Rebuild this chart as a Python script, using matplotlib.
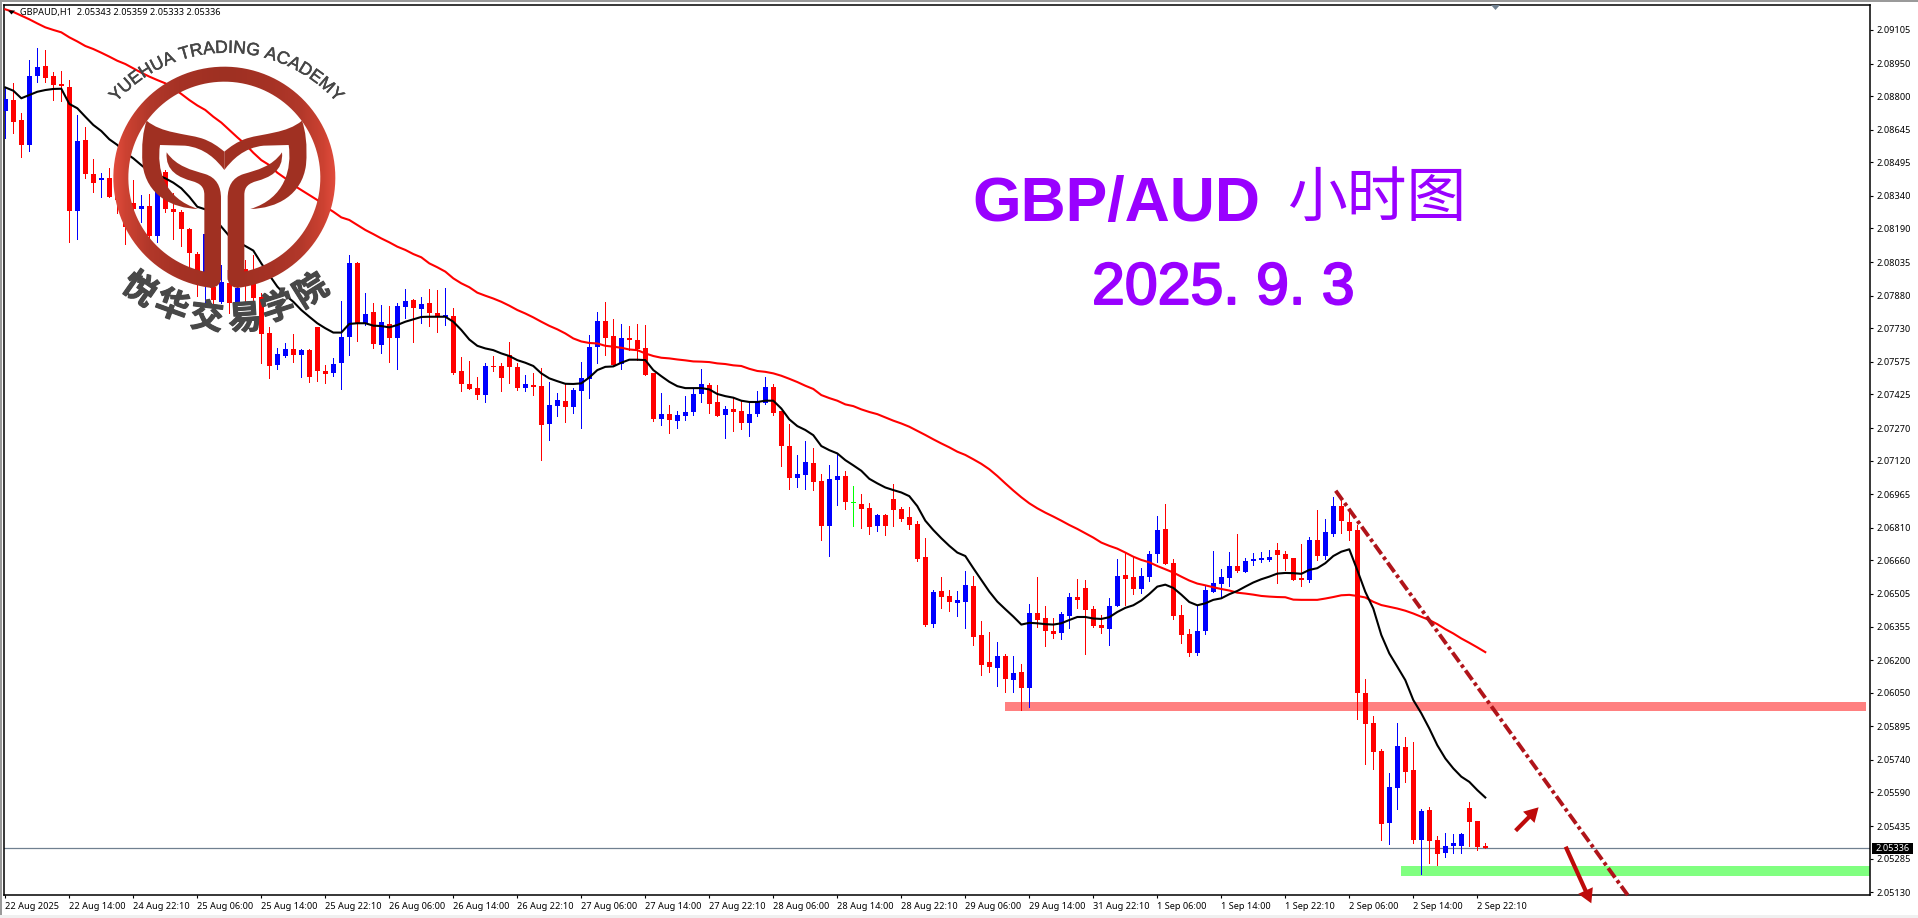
import numpy as np
import matplotlib
matplotlib.use("Agg")
import matplotlib.pyplot as plt
import matplotlib.patheffects as pe
from matplotlib.patches import Rectangle, Polygon, PathPatch
from matplotlib.path import Path

W, H = 1918, 918

# ---- data: prices as points above 2.00000 (1 point = 0.00001) ----
open_pts = [8731,8782,8690,8575,8893,8939,8893,8856,8840,8272,
8598,8441,8413,8423,8383,8321,8306,8280,8293,8155,
8452,8280,8266,8187,8072,7991,7919,7852,7937,7848,
8002,7991,7872,7710,7561,7602,7633,7608,7630,7734,
7533,7525,7568,7691,8029,7750,7803,7653,7750,7685,
7829,7860,7819,7845,7802,7780,7786,7531,7473,7454,
7422,7556,7556,7606,7551,7454,7468,7463,7288,7371,
7394,7367,7440,7497,7643,7763,7694,7565,7685,7675,
7639,7525,7311,7334,7302,7325,7344,7427,7468,7390,
7330,7357,7348,7293,7334,7385,7459,7348,7187,7039,
7053,7108,7026,6818,7030,7049,6923,6919,6901,6818,
6869,6943,6896,6860,6827,6676,6367,6519,6496,6464,
6468,6542,6316,6192,6164,6220,6109,6146,6072,6418,
6395,6335,6326,6404,6492,6533,6436,6362,6344,6450,
6593,6584,6528,6584,6690,6805,6648,6409,6321,6233,
6335,6515,6551,6579,6634,6607,6657,6662,6662,6708,
6690,6671,6579,6570,6754,6680,6782,6911,6837,6800,
6047,5910,5781,5449,5610,5799,5693,5371,5509,5371,
5311,5343,5343,5518,5458,5343]
high_pts = [8836,8859,8721,8966,9020,9013,8913,8916,8874,8713,
8656,8509,8444,8467,8429,8367,8413,8344,8349,8467,
8459,8352,8275,8190,8083,8167,7968,8022,7937,7937,
8045,8068,7891,7734,7637,7660,7702,7633,7633,7734,
7561,7591,7856,8068,8035,7891,7845,7837,7832,7848,
7909,7865,7872,7909,7906,7914,7822,7596,7579,7503,
7568,7602,7568,7668,7568,7514,7525,7549,7482,7430,
7473,7453,7574,7698,7803,7851,7772,7749,7740,7749,
7745,7525,7431,7376,7348,7417,7453,7542,7476,7468,
7371,7407,7399,7390,7440,7506,7473,7348,7288,7145,
7210,7178,7058,7099,7150,7072,7002,6966,6924,6873,
6873,7012,6906,6906,6841,6763,6524,6584,6524,6519,
6611,6588,6381,6330,6284,6229,6220,6183,6459,6584,
6450,6395,6422,6510,6574,6570,6450,6409,6487,6667,
6693,6677,6625,6704,6865,6920,6667,6455,6344,6455,
6542,6704,6621,6699,6782,6671,6694,6699,6708,6740,
6704,6671,6736,6768,6893,6851,6952,6940,6893,6823,
6113,5942,5790,5678,5910,5845,5822,5513,5523,5389,
5404,5398,5403,5546,5458,5359]
low_pts = [8605,8631,8521,8549,8867,8867,8782,8779,8129,8143,
8421,8360,8336,8336,8260,8118,8260,8218,8141,8129,
8267,8141,8111,8014,7879,7837,7829,7845,7799,7842,
7852,7852,7568,7502,7541,7596,7576,7507,7484,7488,
7476,7510,7448,7607,7673,7745,7640,7617,7576,7542,
7776,7668,7756,7740,7714,7745,7519,7440,7450,7403,
7391,7534,7440,7476,7445,7440,7422,7122,7214,7325,
7297,7340,7270,7408,7568,7606,7556,7542,7629,7583,
7514,7302,7284,7247,7270,7307,7330,7390,7339,7325,
7224,7256,7265,7233,7325,7380,7330,7095,6989,6998,
6989,6984,6754,6680,6915,6896,6818,6809,6781,6795,
6777,6818,6841,6804,6657,6358,6353,6441,6427,6404,
6349,6270,6132,6146,6081,6054,6054,5971,5984,6355,
6266,6303,6298,6349,6441,6229,6355,6326,6270,6450,
6455,6505,6510,6565,6653,6644,6390,6279,6220,6224,
6321,6515,6485,6542,6607,6607,6639,6653,6657,6556,
6616,6570,6542,6561,6662,6667,6773,6787,6754,5930,
5721,5698,5371,5352,5513,5638,5358,5214,5265,5255,
5291,5311,5311,5343,5325,5333]
close_pts = [8787,8682,8575,8893,8934,8885,8851,8847,8272,8593,
8441,8399,8423,8336,8321,8198,8280,8293,8155,8367,
8278,8266,8189,8078,7995,8164,7860,7943,7848,7914,
7991,7871,7703,7556,7611,7633,7607,7630,7507,7534,
7519,7565,7688,8029,7750,7796,7657,7757,7685,7832,
7856,7825,7842,7802,7780,7791,7525,7473,7450,7422,
7556,7551,7500,7551,7454,7473,7459,7284,7376,7399,
7367,7445,7500,7643,7763,7685,7560,7685,7675,7632,
7514,7311,7334,7307,7330,7344,7427,7473,7380,7325,
7357,7344,7293,7334,7390,7459,7339,7187,7039,7058,
7113,7021,6818,7035,7049,6929,6923,6896,6813,6869,
6818,6892,6850,6823,6666,6362,6515,6492,6468,6478,
6547,6307,6178,6169,6220,6114,6141,6072,6418,6385,
6335,6321,6413,6492,6478,6432,6358,6349,6450,6588,
6574,6528,6588,6690,6800,6644,6404,6316,6233,6335,
6524,6556,6584,6634,6611,6657,6667,6671,6676,6685,
6667,6570,6570,6754,6680,6791,6911,6842,6796,6050,
5905,5776,5444,5615,5804,5684,5371,5504,5366,5306,
5343,5357,5398,5454,5338,5336]
ma_fast_pts = [8840,8825,8790,8805,8820,8828,8833,8834,8764,8744,
8705,8667,8639,8601,8575,8539,8513,8482,8452,8436,
8421,8401,8375,8336,8290,8278,8244,8198,8155,8129,
8109,8088,8029,7975,7922,7883,7852,7814,7783,7753,
7730,7710,7710,7750,7753,7753,7742,7740,7734,7745,
7760,7771,7782,7783,7783,7783,7760,7722,7678,7649,
7637,7629,7614,7602,7583,7571,7556,7522,7499,7486,
7474,7473,7476,7503,7537,7552,7554,7571,7585,7585,
7583,7537,7509,7483,7463,7454,7454,7454,7448,7427,
7417,7410,7396,7390,7390,7396,7396,7360,7310,7279,
7261,7237,7187,7168,7153,7122,7098,7073,7036,7015,
6996,6984,6973,6956,6910,6843,6800,6762,6727,6696,
6680,6624,6570,6516,6470,6435,6401,6364,6372,6370,
6366,6364,6370,6385,6399,6399,6392,6390,6398,6422,
6441,6453,6475,6505,6539,6548,6533,6502,6468,6453,
6462,6478,6485,6504,6519,6539,6558,6573,6585,6599,
6602,6601,6598,6616,6624,6647,6680,6700,6711,6615,
6515,6438,6316,6231,6170,6108,6016,5955,5885,5808,
5747,5701,5663,5639,5601,5567]
ma_slow_pts = [9200,9188,9171,9154,9135,9117,9105,9094,9071,9052,
9031,9017,9000,8982,8963,8948,8928,8908,8890,8874,
8859,8836,8810,8782,8757,8736,8705,8678,8644,8610,
8578,8539,8505,8482,8447,8421,8390,8367,8344,8321,
8290,8267,8241,8229,8206,8183,8164,8144,8126,8106,
8091,8072,8057,8029,8011,7991,7960,7937,7919,7894,
7880,7867,7852,7834,7814,7798,7780,7760,7741,7725,
7706,7683,7669,7662,7660,7649,7645,7640,7632,7629,
7614,7602,7594,7591,7586,7582,7577,7576,7574,7568,
7565,7559,7556,7543,7533,7529,7522,7511,7497,7482,
7465,7450,7422,7408,7396,7379,7371,7356,7344,7334,
7319,7304,7291,7276,7257,7238,7218,7199,7181,7161,
7146,7126,7105,7080,7049,7015,6982,6951,6923,6900,
6880,6862,6843,6823,6805,6785,6765,6742,6727,6714,
6696,6677,6662,6651,6634,6619,6604,6585,6567,6553,
6545,6536,6528,6521,6511,6507,6502,6496,6493,6491,
6490,6479,6478,6478,6478,6484,6491,6499,6501,6496,
6489,6469,6454,6446,6438,6428,6415,6400,6385,6366,
6343,6323,6300,6280,6259,6237]

y_tick_values = [2.09105,2.08950,2.08800,2.08645,2.08495,2.08340,2.08190,2.08035,2.07880,
                 2.07730,2.07575,2.07425,2.07270,2.07120,2.06965,2.06810,2.06660,2.06505,
                 2.06355,2.06200,2.06050,2.05895,2.05740,2.05590,2.05435,2.05285,2.05130]
x_tick_labels = ["22 Aug 2025","22 Aug 14:00","24 Aug 22:10","25 Aug 06:00","25 Aug 14:00",
                 "25 Aug 22:10","26 Aug 06:00","26 Aug 14:00","26 Aug 22:10","27 Aug 06:00",
                 "27 Aug 14:00","27 Aug 22:10","28 Aug 06:00","28 Aug 14:00","28 Aug 22:10",
                 "29 Aug 06:00","29 Aug 14:00","31 Aug 22:10","1 Sep 06:00","1 Sep 14:00",
                 "1 Sep 22:10","2 Sep 06:00","2 Sep 14:00","2 Sep 22:10"]
last_price = 2.05336
resistance_zone = (125.0, 232.6, 2.05967, 2.06006)
support_zone = (174.5, 2.05205, 2.05251)
trend_bars = [166.3, 202.8]
trend_prices = [2.06981, 2.05117]

# ---- scales ----
to_price = lambda a: 2.0 + np.asarray(a, float) / 1e5
O, Hi, Lo, C = map(to_price, (open_pts, high_pts, low_pts, close_pts))
bars = np.arange(len(O))

fig = plt.figure(figsize=(W / 100, H / 100), dpi=100, facecolor="white")
left, right, top, bottom = 4.0, 1870.0, 4.5, 895.0
ax = fig.add_axes([left / W, 1 - bottom / H, (right - left) / W, (bottom - top) / H])
ax.set_xlim((left - 5.3) / 8.0, (right - 5.3) / 8.0)
ax.set_ylim(2.09243 - 4.6095e-5 * bottom, 2.09243 - 4.6095e-5 * top)
ax.set_facecolor("white")
for s in ax.spines.values():
    s.set_linewidth(1.1)
    s.set_color("black")

FONT = "Noto Sans"
ax.yaxis.tick_right()
ax.set_yticks(y_tick_values)
ax.set_yticklabels([f"{v:.5f}" for v in y_tick_values], fontsize=6.6, family=FONT, color="black")
ax.set_xticks(bars[::8])
ax.set_xticklabels(x_tick_labels, fontsize=6.6, family=FONT, ha="left", color="black")
ax.tick_params(axis="both", length=2.4, width=0.8, color="black", pad=2.4)

# zones
ax.add_patch(Rectangle((resistance_zone[0], resistance_zone[2]),
                       resistance_zone[1] - resistance_zone[0],
                       resistance_zone[3] - resistance_zone[2],
                       fc="#FF8080", ec="none", zorder=1))
ax.add_patch(Rectangle((support_zone[0], support_zone[1]),
                       ax.get_xlim()[1] - support_zone[0],
                       support_zone[2] - support_zone[1],
                       fc="#80FF80", ec="none", zorder=1))

# candles
colors = np.where(C > O, "#0000FF", np.where(C < O, "#FF0000", "#00FF00"))
ax.vlines(bars, Lo, Hi, colors=colors, linewidth=0.72, zorder=3, antialiased=False)
body_lo = np.minimum(O, C)
body_h = np.maximum(np.abs(C - O), 4.7e-5)
ax.bar(bars, body_h, bottom=body_lo, width=5.0 / 8, color=colors, linewidth=0, zorder=3,
       antialiased=False)

# moving averages
ax.plot(bars, to_price(ma_slow_pts), color="#FF0000", lw=1.5, zorder=4, solid_joinstyle="round")
ax.plot(bars, to_price(ma_fast_pts), color="#000000", lw=1.5, zorder=4, solid_joinstyle="round")

# current price line, trend line
ax.axhline(last_price, color="#708090", lw=0.9, zorder=2)
ax.plot(trend_bars, trend_prices, color="#B0141A", lw=2.8, ls=(0, (3.0, 0.9, 0.9, 0.9)),
        zorder=5, clip_on=False)

# ---- overlay in pixel coordinates ----
ov = fig.add_axes([0, 0, 1, 1], zorder=10)
ov.set_facecolor("none")
ov.axis("off")

# window edges
ov.add_patch(Rectangle((0, 0), W, 2.2, fc="#9A9A9A", ec="none"))
ov.add_patch(Rectangle((0, 0), 2.2, 915, fc="#9A9A9A", ec="none"))
ov.add_patch(Rectangle((0, 914.5), W, 3.5, fc="#F0F0F0", ec="none"))

# header
ov.add_patch(Polygon([(8, 10.5), (15, 10.5), (11.5, 14.5)], fc="black", ec="none"))
ov.text(20, 12.5, "GBPAUD,H1  2.05343 2.05359 2.05333 2.05336", fontsize=6.6, family=FONT,
        va="center", ha="left", color="black")
# shift marker at the top
ov.add_patch(Polygon([(1491, 5), (1500, 5), (1495.5, 10)], fc="#708090", ec="none"))

# current-price label
ov.add_patch(Rectangle((1872, 843), 41, 11, fc="black", ec="none"))
ov.text(1892.5, 848.6, "2.05336", fontsize=6.6, family=FONT, color="white", ha="center", va="center")

# arrows
def arrow(x0, y0, x1, y1, w=4.2, hw=16, hl=14, color="#BE0A0A"):
    d = np.array([x1 - x0, y1 - y0], float)
    L = np.hypot(*d); d /= L
    n = np.array([-d[1], d[0]])
    p0, p1 = np.array([x0, y0]), np.array([x1, y1])
    b = p1 - d * hl
    pts = [p0 + n * w / 2, b + n * w / 2, b + n * hw / 2, p1, b - n * hw / 2, b - n * w / 2, p0 - n * w / 2]
    ov.add_patch(Polygon(pts, fc=color, ec="none"))
arrow(1515.6, 830.7, 1538.6, 807.3)
arrow(1565.7, 846.7, 1591.3, 903.3)

# titles
ov.text(972, 221, "GBP/AUD", fontsize=45, family="Liberation Sans", weight="bold", color="#9900FF",
        ha="left", va="baseline")
ov.text(1377, 199, "小时图", fontsize=43, family="Noto Sans CJK SC", color="#9900FF",
        ha="center", va="center")
ov.text(1092, 304, "2025. 9. 3", fontsize=42.5, family="Liberation Sans", color="#9900FF",
        ha="left", va="baseline",
        path_effects=[pe.withStroke(linewidth=1.4, foreground="#9900FF")])

# ---- logo ----
zx = lambda x: 105 + np.asarray(x, float) / 3.0
zy = lambda y: 55 + np.asarray(y, float) / 3.0
cx, cy, Ro, Ri = 358.0, 368.0, 333.0, 288.0

def bez(p0, p1, p2, n=12):
    t = np.linspace(0, 1, n)[:, None]
    p0, p1, p2 = map(np.array, (p0, p1, p2))
    return (1 - t) ** 2 * p0 + 2 * t * (1 - t) * p1 + t ** 2 * p2

th_o = np.radians(np.linspace(7.4, 352.6, 240))
th_i = np.radians(np.linspace(348, 12, 240))
outer = np.c_[cx - Ro * np.sin(th_o), cy + Ro * np.cos(th_o)]
inner = np.c_[cx - Ri * np.sin(th_i), cy + Ri * np.cos(th_i)]
cap_r = bez((401, 699), (368, 697), (368, 665))
cap_l = bez((348, 665), (348, 697), (315, 699))
ring_pts = np.vstack([outer, cap_r, [(368, 645)], inner, [(348, 645)], cap_l])
ring_path = Path(np.c_[zx(ring_pts[:, 0]), zy(ring_pts[:, 1])])
ring_patch = PathPatch(ring_path, fc="none", ec="none", transform=ov.transData)
ov.add_patch(ring_patch)
xs = np.linspace(0, 716, 240)
anch = np.array([25, 60, 130, 220, 358, 496, 586, 656, 691], float)
rgb = np.array([[226,76,61],[205,66,50],[178,56,42],[166,50,37],[158,48,34],
                [166,50,37],[178,56,42],[205,66,50],[226,76,61]], float) / 255
grad = np.stack([np.interp(xs, anch, rgb[:, k]) for k in range(3)], axis=-1)[None, :, :]
im = ov.imshow(grad, extent=(zx(0), zx(716), zy(720), zy(0)), aspect="auto", interpolation="bilinear")
im.set_clip_path(ring_patch)

def curve_path(segs):
    verts, codes = [], []
    for i, s in enumerate(segs):
        if i == 0:
            verts.append(s); codes.append(Path.MOVETO)
        elif len(s) == 2 and not isinstance(s[0], tuple):
            verts.append(s); codes.append(Path.LINETO)
        else:
            verts.extend(s); codes.extend([Path.CURVE4] * 3)
    verts.append(segs[0]); codes.append(Path.CLOSEPOLY)
    return np.array(verts, float), codes

stem = [(185, 292), ((215, 335), (260, 345), (300, 357)), ((335, 368), (348, 395), (348, 430)),
        (348, 675), (298, 675), (298, 420), ((298, 395), (285, 385), (260, 378)),
        ((225, 368), (180, 350), (185, 292))]
wing = [(125, 197), ((170, 235), (240, 235), (290, 250)), ((320, 260), (340, 275), (358, 290)),
        (358, 345), ((335, 315), (300, 278), (240, 272)), (165, 270),
        ((155, 340), (175, 430), (280, 462)), ((200, 460), (125, 420), (113, 330)),
        ((108, 270), (115, 225), (125, 197))]
for segs in (stem, wing):
    v, c = curve_path(segs)
    for mirror in (False, True):
        vx = 716 - v[:, 0] if mirror else v[:, 0]
        ov.add_patch(PathPatch(Path(np.c_[zx(vx), zy(v[:, 1])], c), fc="#A03022", ec="none"))

# arc text
word = "YUEHUA TRADING ACADEMY"
adv = {"Y":.667,"U":.722,"E":.667,"H":.722,"A":.667," ":.278,"T":.611,"R":.722,"D":.722,"I":.278,
       "N":.722,"G":.778,"C":.722,"M":.833}
em = 17.6
ax0, ay0, ar = 226.5, 199.7, 147.0
total = sum(adv[ch] for ch in word) * em
pos = -total / 2
for ch in word:
    w = adv[ch] * em
    ang = (pos + w / 2) / ar
    ov.text(ax0 + ar * np.sin(ang), ay0 - ar * np.cos(ang), ch, fontsize=em * 0.72,
            family="Liberation Sans", color="#454545", ha="center", va="baseline",
            rotation=-np.degrees(ang), rotation_mode="anchor",
            path_effects=[pe.withStroke(linewidth=0.35, foreground="#454545")])
    pos += w

school = "悦华交易学院"
school_xy = [(139, 290), (171.7, 306.7), (206.7, 318.3), (245, 319.3), (278.3, 308.3), (311.7, 291.7)]
school_rot = [-35, -20, -7, 4, 18, 32]
for ch, (x, y), r in zip(school, school_xy, school_rot):
    ov.text(x, y, ch, fontsize=24, family="Noto Sans CJK SC", weight="bold",
            color="#484848", ha="center", va="center", rotation=r, rotation_mode="anchor",
            path_effects=[pe.withStroke(linewidth=0.8, foreground="#484848")])

ov.set_xlim(0, W)
ov.set_ylim(H, 0)

fig.savefig("out.png", dpi=100)
